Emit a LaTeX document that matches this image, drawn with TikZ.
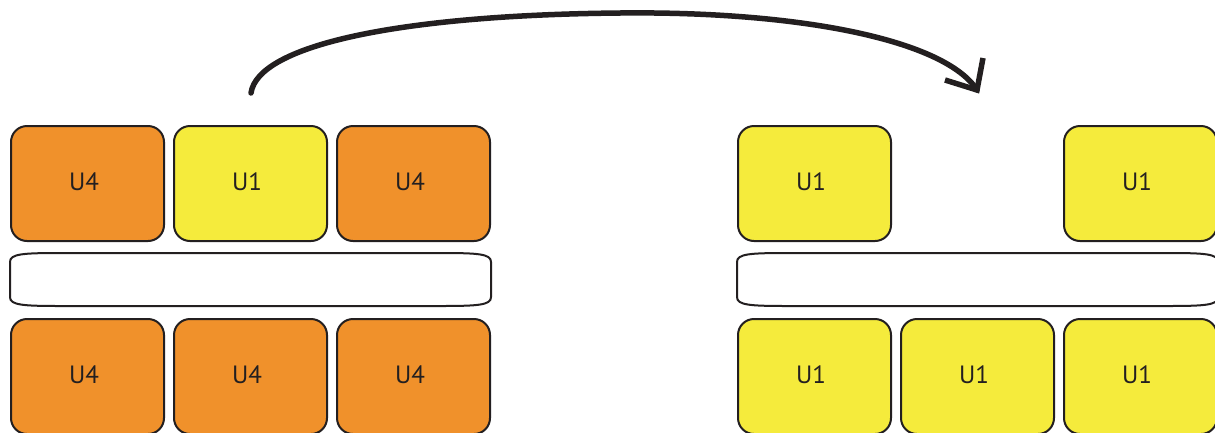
\documentclass[tikz,border=0pt]{standalone}
\usepackage{fontspec}
\setmainfont{PT Sans}
\usetikzlibrary{calc}

\definecolor{unitorange}{RGB}{240,145,43}
\definecolor{unityellow}{RGB}{245,235,60}
\definecolor{inkdark}{RGB}{35,31,32}

\tikzset{
  unitbox/.style={draw=inkdark, line width=2, rounded corners=16,
    minimum width=153, minimum height=115, inner sep=0, outer sep=0},
  uorange/.style={unitbox, fill=unitorange},
  uyellow/.style={unitbox, fill=unityellow},
  ulabel/.style={font=\fontsize{25}{28}\selectfont, text=inkdark,
    inner sep=0, anchor=center},
  barline/.style={draw=inkdark, line width=2, fill=white},
  moveline/.style={draw=inkdark, line width=5.5, line cap=round},
  headline/.style={draw=inkdark, line width=5.5, line join=miter, line cap=butt}
}

% one long rounded bar between the two rows of a group
\newcommand{\unitbar}[2]{%
  \path[barline]
    (#1,262) .. controls (#1,254) and (#1+12,253) .. (#1+50,253)
    -- (#2-50,253) .. controls (#2-12,253) and (#2,254) .. (#2,262)
    -- (#2,297) .. controls (#2,305) and (#2-12,306) .. (#2-50,306)
    -- (#1+50,306) .. controls (#1+12,306) and (#1,305) .. (#1,297)
    -- cycle;}

\begin{document}
\begin{tikzpicture}[x=1pt, y=-1pt]
  \clip (0,0) rectangle (1215,432);
  \fill[white] (0,0) rectangle (1215,432);

  % left group: top row
  \node[uorange] (lt1) at (87.5,183.5) {};
  \node[uyellow] (lt2) at (250.5,183.5) {};
  \node[uorange] (lt3) at (413.5,183.5) {};
  % left group: bottom row
  \node[uorange] (lb1) at (87.5,376.5) {};
  \node[uorange] (lb2) at (250.5,376.5) {};
  \node[uorange] (lb3) at (413.5,376.5) {};
  \unitbar{10}{491}

  % right group: top row (middle slot empty)
  \node[uyellow] (rt1) at (814.5,183.5) {};
  \node[uyellow] (rt3) at (1140.5,183.5) {};
  % right group: bottom row
  \node[uyellow] (rb1) at (814.5,376.5) {};
  \node[uyellow] (rb2) at (977.5,376.5) {};
  \node[uyellow] (rb3) at (1140.5,376.5) {};
  \unitbar{737}{1218}

  % labels
  \foreach \n/\t in {lt1/U4, lt2/U1, lt3/U4, lb1/U4, lb2/U4, lb3/U4,
                     rt1/U1, rt3/U1, rb1/U1, rb2/U1, rb3/U1}
    \node[ulabel] (\n-txt) at ($(\n.center)+(-3.5,-2)$) {\t};

  % moving arrow
  \coordinate (src) at ($(lt2.north)+(0.5,-33)$);
  \coordinate (dst) at (977,90);
  \draw[moveline] (src) .. controls (258,45) and (400,15) .. (620,13)
    .. controls (800,11) and (945,40) .. (dst);
  \draw[headline] ($(dst)+(6,-32)$) -- (dst) -- ($(dst)+(-32,-10)$);
\end{tikzpicture}
\end{document}
